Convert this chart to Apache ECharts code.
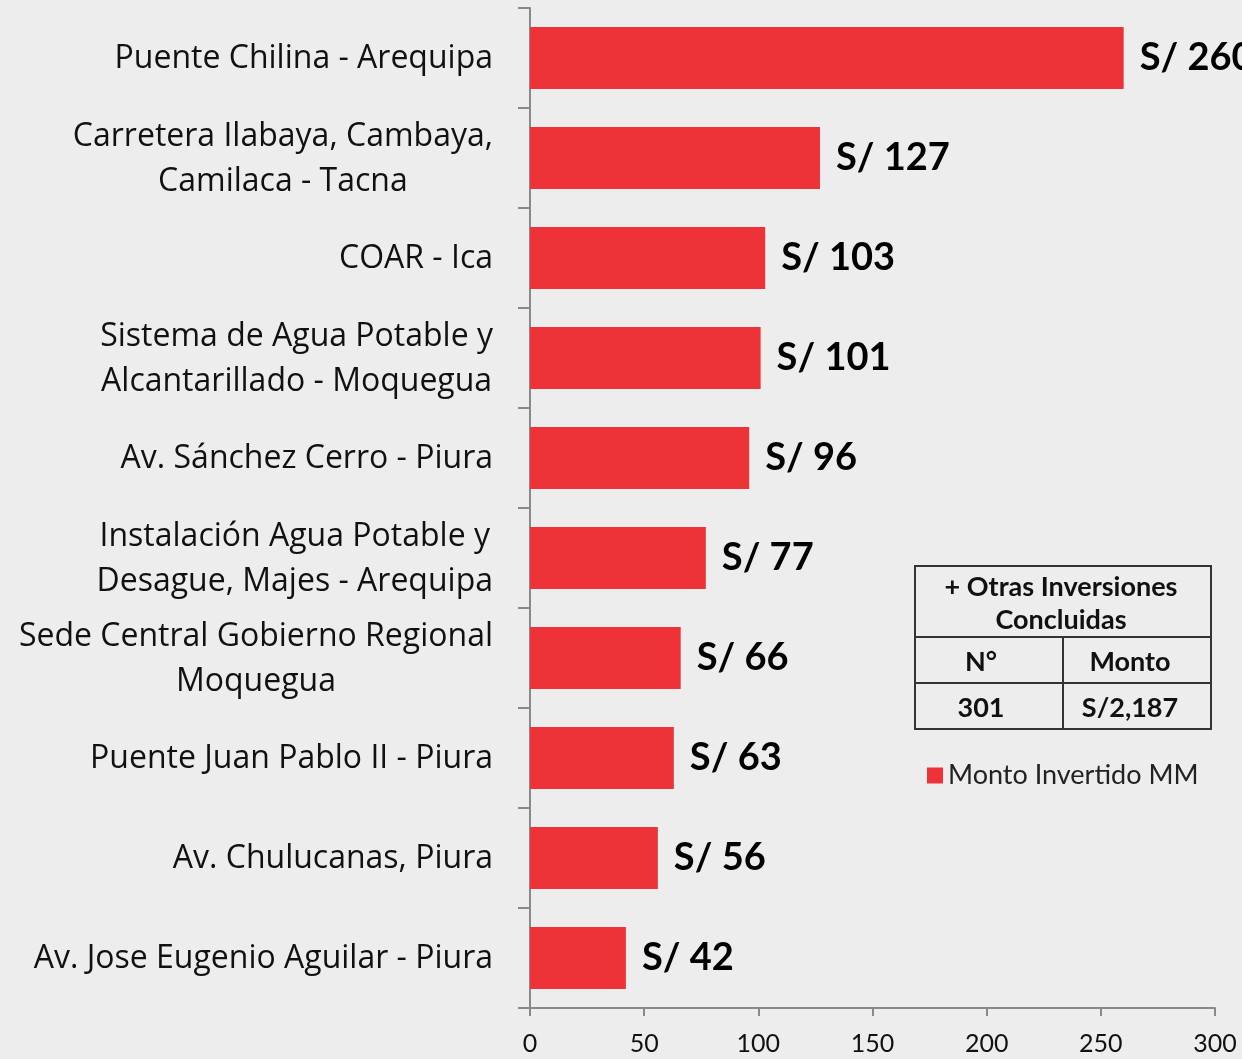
<!DOCTYPE html>
<html>
<head>
<meta charset="utf-8">
<script src="https://cdn.jsdelivr.net/npm/echarts@6/dist/echarts.min.js"></script>
<style>
  html, body { margin: 0; padding: 0; background: #ededed; }
  #chart { width: 1242px; height: 1059px; }
</style>
</head>
<body>
<div id="chart"></div>
<script>
// obras concluidas (de arriba hacia abajo)
const categories = [
  'Puente Chilina - Arequipa',
  'Carretera Ilabaya, Cambaya,\nCamilaca - Tacna',
  'COAR - Ica',
  'Sistema de Agua Potable y\nAlcantarillado - Moquegua',
  'Av. Sánchez Cerro - Piura',
  'Instalación Agua Potable y\nDesague, Majes - Arequipa',
  'Sede Central Gobierno Regional\nMoquegua',
  'Puente Juan Pablo II - Piura',
  'Av. Chulucanas, Piura',
  'Av. Jose Eugenio Aguilar - Piura'
]
const montos = [260, 127, 103, 101, 96, 77, 66, 63, 56, 42]
const xTicks = [0, 50, 100, 150, 200, 250, 300]
const serieNombre = 'Monto Invertido MM'

// cuadro de otras inversiones
const tablaTitulo = ['+ Otras Inversiones', 'Concluidas']
const tablaCabecera = ['N°', 'Monto']
const tablaValores = ['301', 'S/2,187']

const font = 'Lato, "Open Sans", sans-serif'
const fontEjes = '"Open Sans", Lato, sans-serif'
const rojo = '#ee3338'
const gris = '#898989'
const borde = '#333333'

const chart = echarts.init(document.getElementById('chart'))

// tabla dibujada con graphic
const tx = 915, ty = 566, tw = 296, th = 163
const tMid = 1063, r1 = 637, r2 = 683
const txtStyle = (text, x, y) => ({
  type: 'text',
  x, y,
  style: {
    text,
    font: 'bold 27px ' + font,
    fill: '#111',
    align: 'center',
    verticalAlign: 'middle'
  }
})
const tabla = [
  { type: 'rect', shape: { x: tx, y: ty, width: tw, height: th }, style: { fill: 'none', stroke: borde, lineWidth: 2 } },
  { type: 'line', shape: { x1: tx, y1: r1, x2: tx + tw, y2: r1 }, style: { stroke: borde, lineWidth: 2 } },
  { type: 'line', shape: { x1: tx, y1: r2, x2: tx + tw, y2: r2 }, style: { stroke: borde, lineWidth: 2 } },
  { type: 'line', shape: { x1: tMid, y1: r1, x2: tMid, y2: ty + th }, style: { stroke: borde, lineWidth: 2 } },
  txtStyle(tablaTitulo[0], (tx + tx + tw) / 2 - 2, 587),
  txtStyle(tablaTitulo[1], (tx + tx + tw) / 2 - 2, 620),
  txtStyle(tablaCabecera[0], (tx + tMid) / 2 - 8, 662),
  txtStyle(tablaCabecera[1], (tMid + tx + tw) / 2 - 7, 662),
  txtStyle(tablaValores[0], (tx + tMid) / 2 - 8, 708),
  txtStyle(tablaValores[1], (tMid + tx + tw) / 2 - 7, 708)
]

const option = {
  backgroundColor: '#ededed',
  animation: false,
  grid: { left: 530, right: 27, top: 8, bottom: 51, containLabel: false },
  legend: {
    left: 922,
    top: 757,
    itemWidth: 16,
    itemHeight: 16,
    itemGap: 8,
    icon: 'rect',
    data: [serieNombre],
    textStyle: { fontFamily: font, fontSize: 27, color: '#222' }
  },
  xAxis: {
    type: 'value',
    min: 0,
    max: 300,
    interval: 50,
    splitLine: { show: false },
    axisLine: { show: true, lineStyle: { color: gris, width: 2 } },
    axisTick: { show: true, length: 8, lineStyle: { color: gris, width: 2 } },
    axisLabel: {
      margin: 23,
      fontFamily: font,
      fontSize: 25,
      color: '#111',
      formatter: v => (xTicks.includes(v) ? String(v) : '')
    }
  },
  yAxis: {
    type: 'category',
    inverse: true,
    data: categories,
    axisLine: { show: true, lineStyle: { color: gris, width: 2 } },
    axisTick: { show: true, length: 12, lineStyle: { color: gris, width: 2 } },
    axisLabel: {
      margin: 37,
      align: 'right',
      formatter: v => v.split('\n').map(l => '{c|' + l + '}').join('\n'),
      rich: {
        c: {
          align: 'center',
          fontFamily: fontEjes,
          fontSize: 32,
          lineHeight: 45,
          color: '#111',
          padding: [2, 0, 0, 0]
        }
      }
    }
  },
  series: [{
    name: serieNombre,
    type: 'bar',
    data: montos,
    barWidth: 62,
    itemStyle: { color: rojo },
    label: {
      show: true,
      position: 'right',
      distance: 16,
      formatter: p => 'S/ ' + p.value,
      fontFamily: font,
      fontWeight: 'bold',
      fontSize: 38,
      color: '#000'
    }
  }],
  graphic: tabla
}

chart.setOption(option)
</script>
</body>
</html>
